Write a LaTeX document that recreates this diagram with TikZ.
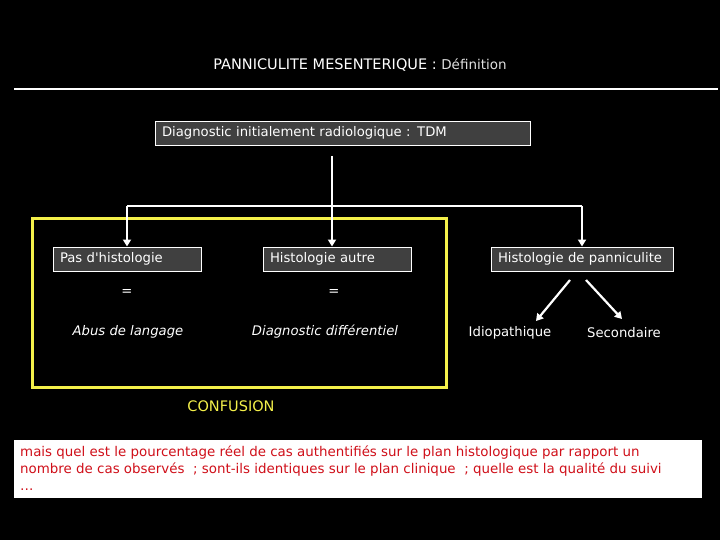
\documentclass[tikz,border=0pt]{standalone}
\usepackage{fontspec}
\setmainfont{DejaVu Sans}
\usetikzlibrary{arrows.meta}
\definecolor{boxgrey}{HTML}{404040}
\definecolor{ylw}{HTML}{F4F04A}
\definecolor{redtxt}{HTML}{D0101A}
\definecolor{ltgrey}{HTML}{E0E0E0}
\begin{document}
\begin{tikzpicture}[x=1pt,y=-1pt,
  greybox/.style={draw=white, line width=1pt, fill=boxgrey, text=white, minimum height=24pt,
    inner xsep=7pt, inner ysep=0pt, text height=8pt, text depth=2pt, align=left, font=\fontsize{13.2}{15}\selectfont},
  conn/.style={draw=white, line width=2.6pt},
  arr/.style={conn, -{Triangle[length=7pt,width=8pt]}},
  plain/.style={text=white, inner sep=0pt, font=\fontsize{13.2}{15}\selectfont},
  slant/.style={plain, font=\fontsize{13.2}{15}\selectfont\itshape}]
\path[fill=black] (0,0) rectangle (720,540);
\useasboundingbox (0,0) rectangle (720,540);
% title
\node[plain, anchor=base] (title) at (360,70) {\fontsize{14.5}{16}\selectfont PANNICULITE MESENTERIQUE : {\color{ltgrey}\fontsize{13.5}{16}\selectfont Définition}};
\coordinate (hl) at (14,89);
\coordinate (hr) at (718,89);
\draw[white, line width=2pt] (hl) -- (hr);
% top box
\node[greybox, text width=361pt] (diag) at (342.5,134) {Diagnostic initialement radiologique : TDM};
% connectors
\coordinate (top) at (332,156);
\coordinate (j) at (332,206);
\coordinate (jl) at (127,206);
\coordinate (jr) at (582,206);
% yellow frame
\draw[ylw, line width=3pt] (32,219) rectangle (446,387);
% boxes
\node[greybox, text width=134pt] (pas) at (127,259) {Pas d\textquotesingle histologie};
\node[greybox, text width=134pt] (autre) at (337,259) {Histologie autre};
\node[greybox, text width=168pt] (panni) at (582,259) {Histologie de panniculite};
\draw[conn] (top) -- (j);
\draw[conn] (jl) -- (jr);
\draw[arr] (jl) -- (pas.north);
\draw[arr] (j) -- (j |- autre.north);
\draw[arr] (jr) -- (panni.north);
% equals and texts
\node[plain] (eq1) at (127,293) {=};
\node[plain] (eq2) at (334,293) {=};
\node[slant] (abus) at (128,332) {Abus de langage};
\node[slant] (diff) at (325,332) {Diagnostic différentiel};
\node[plain] (idio) at (510,333) {Idiopathique};
\node[plain] (sec) at (624,333) {Secondaire};
\coordinate (d1a) at (570,280);
\coordinate (d1b) at (536,321);
\coordinate (d2a) at (586,280);
\coordinate (d2b) at (622,319);
\draw[conn, line width=2.2pt, -{Triangle[length=7pt,width=8pt]}] (d1a) -- (d1b);
\draw[conn, line width=2.2pt, -{Triangle[length=7pt,width=8pt]}] (d2a) -- (d2b);
\node[plain, text=ylw, font=\fontsize{14.5}{16}\selectfont] (conf) at (231,406) {CONFUSION};
% bottom box
\path[fill=white] (14,440) rectangle (702,498);
\node[text=redtxt, anchor=north west, inner sep=0pt, align=left, font=\fontsize{13.4}{17}\selectfont] (note) at (20,446)
 {mais quel est le pourcentage réel de cas authentifiés sur le plan histologique par rapport un\\
  nombre de cas observés \ ; sont-ils identiques sur le plan clinique \ ; quelle est la qualité du suivi\\
  …};
\end{tikzpicture}
\end{document}
